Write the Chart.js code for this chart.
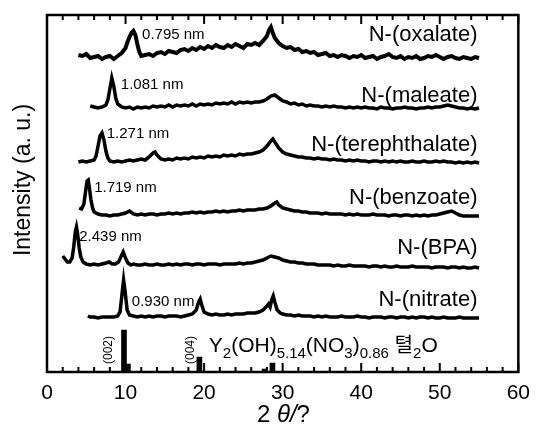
<!DOCTYPE html>
<html>
<head>
<meta charset="utf-8">
<script src="https://cdn.jsdelivr.net/npm/chart.js@4/dist/chart.umd.min.js"></script>
<style>body{margin:0;background:#fff}</style>
</head>
<body>
<canvas id="myChart" width="539" height="425"></canvas>
<script>
// 2theta (deg) and stacked intensity (a.u.)
let oxalateX = [4,4.5,5,5.5,6,6.5,7,7.5,8,8.5,9,9.5,10,10.25,10.5,10.75,11,11.25,11.5,11.75,12,12.5,13,13.5,14,14.5,15,15.5,16,16.5,17,17.5,18,18.5,19,19.5,20,20.5,21,21.5,22,22.5,23,23.5,24,24.5,25,25.5,26,26.5,27,27.5,28,28.25,28.5,28.75,29,29.5,30,30.5,31,31.5,32,32.5,33,33.5,34,34.5,35,35.5,36,36.5,37,37.5,38,38.5,39,39.5,40,40.5,41,41.5,42,42.5,43,43.5,44,44.5,45,45.5,46,46.5,47,47.5,48,48.5,49,49.5,50,50.5,51,51.5,52,52.5,53,53.5,54,54.5,55];
let oxalateY = [317,316,318,314,315,316,313,315,316,313,316,319,324,330,335,339,341,337,328,320,316,317,318,316,319,320,318,321,320,319,322,323,321,324,322,325,323,326,324,327,325,324,327,325,328,326,324,328,327,329,327,331,336,342,345,339,334,329,326,324,325,322,323,320,321,319,320,317,318,319,316,317,315,317,316,314,316,315,317,314,315,316,313,315,316,318,315,314,316,313,315,314,316,313,314,316,315,317,315,313,315,316,314,313,315,314,313,315,314];

let maleateX = [5.5,6,6.5,7,7.5,7.75,8,8.25,8.5,8.75,9,9.5,10,10.5,11,11.5,12,12.5,13,13.5,14,14.5,15,15.5,16,16.5,17,17.5,18,18.5,19,19.5,20,20.5,21,21.5,22,22.5,23,23.5,24,24.5,25,25.5,26,26.5,27,27.5,28,28.5,29,29.5,30,30.5,31,31.5,32,32.5,33,33.5,34,34.5,35,35.5,36,36.5,37,37.5,38,38.5,39,39.5,40,40.5,41,41.5,42,42.5,43,43.5,44,44.5,45,45.5,46,46.5,47,47.5,48,48.5,49,49.5,50,50.5,51,51.5,52,52.5,53,53.5,54,54.5,55];
let maleateY = [266,265,264,265,267,272,283,294,286,274,268,265,264,265,263,265,264,265,264,266,265,266,265,267,265,267,266,267,266,268,266,268,267,268,267,269,268,269,268,270,268,270,269,270,269,270,270,271,273,276,277,274,271,270,268,269,267,268,266,267,266,266,265,266,265,266,265,265,264,265,264,265,264,265,264,264,263,265,264,264,263,264,264,265,264,264,263,264,264,265,264,265,265,266,267,266,265,264,264,263,264,263,264];

let terephX = [4,4.5,5,5.5,6,6.25,6.5,6.75,7,7.25,7.5,7.75,8,8.5,9,9.5,10,10.5,11,11.5,12,12.5,13,13.5,13.75,14,14.5,15,15.5,16,16.5,17,17.5,18,18.5,19,19.5,20,20.5,21,21.5,22,22.5,23,23.5,24,24.5,25,25.5,26,26.5,27,27.5,28,28.5,28.75,29,29.5,30,30.5,31,31.5,32,32.5,33,33.5,34,34.5,35,35.5,36,36.5,37,37.5,38,38.5,39,39.5,40,40.5,41,41.5,42,42.5,43,43.5,44,44.5,45,45.5,46,46.5,47,47.5,48,48.5,49,49.5,50,50.5,51,51.5,52,52.5,53,53.5,54,54.5,55];
let terephY = [210,211,210,211,212,216,226,236,239,232,221,214,211,210,211,210,211,212,211,212,213,212,215,219,220,217,213,212,213,212,214,213,214,213,215,214,215,214,216,215,216,215,217,216,217,216,218,217,218,218,219,220,222,226,231,233,230,224,220,218,217,216,215,215,214,214,213,214,213,213,212,213,212,212,211,212,211,212,211,211,210,211,211,210,211,210,211,210,211,210,210,211,210,210,211,210,210,211,210,211,210,210,209,210,209,210,209,210,209];

let benzoateX = [4.1,4.4,4.7,4.9,5.1,5.25,5.4,5.6,5.8,6,6.5,7,7.5,8,8.5,9,9.5,10,10.5,11,11.5,12,12.5,13,13.5,14,14.5,15,15.5,16,16.5,17,17.5,18,18.5,19,19.5,20,20.5,21,21.5,22,22.5,23,23.5,24,24.5,25,25.5,26,26.5,27,27.5,28,28.5,29,29.25,29.5,30,30.5,31,31.5,32,32.5,33,33.5,34,34.5,35,35.5,36,36.5,37,37.5,38,38.5,39,39.5,40,40.5,41,41.5,42,42.5,43,43.5,44,44.5,45,45.5,46,46.5,47,47.5,48,48.5,49,49.5,50,50.5,51,51.5,52,52.5,53,53.5,54,54.5,55];
let benzoateY = [164,163,168,180,191,192,184,172,164,160,158,157,157,156,157,157,158,159,161,158,157,158,157,158,158,157,158,158,159,158,159,158,159,159,160,159,160,159,160,160,161,160,161,160,161,161,162,161,162,162,162,163,163,164,166,169,170,167,164,163,162,161,161,160,160,159,159,159,158,159,158,158,158,158,157,158,157,158,157,157,157,158,157,157,157,156,157,157,156,157,157,156,157,156,157,156,157,157,158,159,160,161,159,157,156,156,156,156,156];

let bpaX = [2,2.3,2.6,2.9,3.2,3.4,3.6,3.75,3.9,4.1,4.3,4.6,5,5.5,6,6.5,7,7.5,7.9,8.3,8.7,9.1,9.4,9.7,10,10.3,10.7,11,11.5,12,12.5,13,13.5,14,14.5,15,15.5,16,16.5,17,17.5,18,18.5,19,19.5,20,20.5,21,21.5,22,22.5,23,23.5,24,24.5,25,25.5,26,26.5,27,27.5,28,28.5,29,29.5,30,30.5,31,31.5,32,32.5,33,33.5,34,34.5,35,35.5,36,36.5,37,37.5,38,38.5,39,39.5,40,40.5,41,41.5,42,42.5,43,43.5,44,44.5,45,45.5,46,46.5,47,47.5,48,48.5,49,49.5,50,50.5,51,51.5,52,52.5,53,53.5,54,54.5,55];
let bpaY = [116,113,110,110,114,125,140,145,138,124,115,110,108,107,108,107,108,109,110,108,108,110,115,120,114,109,107,108,107,107,108,107,107,108,107,107,108,107,108,107,108,108,107,108,108,107,108,108,108,107,108,108,108,108,109,108,109,109,110,111,112,114,116,115,114,112,111,110,110,109,109,108,108,108,107,107,107,107,106,107,106,106,107,106,106,106,106,105,106,106,105,106,105,105,106,105,105,105,106,105,105,105,105,104,105,105,105,104,105,105,104,105,104,104,105,104];

let nitrateX = [5.2,5.5,6,6.5,7,7.5,8,8.5,9,9.3,9.55,9.75,9.95,10.2,10.5,11,11.5,12,12.5,13,13.5,14,14.5,15,15.5,16,16.5,17,17.5,18,18.5,19,19.3,19.5,19.7,20,20.5,21,21.5,22,22.5,23,23.5,24,24.5,25,25.5,26,26.5,27,27.5,28,28.2,28.4,28.6,28.8,29,29.3,29.7,30,30.5,31,31.5,32,32.5,33,33.5,34,34.5,35,35.5,36,36.5,37,37.5,38,38.5,39,39.5,40,40.5,41,41.5,42,42.5,43,43.5,44,44.5,45,45.5,46,46.5,47,47.5,48,48.5,49,49.5,50,50.5,51,51.5,52,52.5,53,53.5,54,54.5,55];
let nitrateY = [56,55,55,54,55,55,55,55,56,60,78,92,80,62,57,56,55,56,55,56,55,56,56,55,56,56,56,55,56,57,58,62,70,73,67,60,58,57,58,57,57,58,57,58,58,58,59,59,59,60,62,66,68,65,72,76,70,62,59,58,57,57,56,57,56,56,56,55,56,55,56,55,55,55,56,55,55,55,56,55,55,54,55,55,55,54,55,55,54,55,55,54,55,54,55,55,54,55,54,54,55,54,54,54,55,54,54,54,54,54];

// reference pattern of Y2(OH)5.14(NO3)0.86·H2O
let refX = [9.8, 10.3, 19.4, 27.7, 28.7];
let refY = [42, 8, 15, 3, 9];

let seriesNames = ["N-(oxalate)", "N-(maleate)", "N-(terephthalate)", "N-(benzoate)", "N-(BPA)", "N-(nitrate)"];
let spacings = ["0.795 nm", "1.081 nm", "1.271 nm", "1.719 nm", "2.439 nm", "0.930 nm"];
let hklLabels = ["(002)", "(004)"];
let xTicks = [0, 10, 20, 30, 40, 50, 60];

// where the texts sit, in axis units
let nameAt = [[54.8, 337], [54.8, 276], [54.8, 227], [54.8, 174], [54.8, 124], [54.8, 72]];
let spacingAt = [[12.1, 337], [9.4, 287], [7.6, 238], [6.0, 184], [4.1, 135], [10.8, 70]];
let hklAt = [[7.9, 22], [18.3, 22]];

function pts(xs, ys) {
    return xs.map(function (x, i) { return { x: x, y: ys[i] }; });
}

let traces = [
    [oxalateX, oxalateY], [maleateX, maleateY], [terephX, terephY],
    [benzoateX, benzoateY], [bpaX, bpaY], [nitrateX, nitrateY]
];

let datasets = traces.map(function (t, i) {
    return {
        type: "line",
        label: seriesNames[i],
        data: pts(t[0], t[1]),
        borderColor: "#000",
        borderWidth: i === 0 ? 4 : 3.5,
        pointRadius: 0,
        tension: 0,
    };
});
datasets.push({
    type: "bar",
    label: "ref",
    data: pts(refX, refY),
    backgroundColor: "#000",
    barThickness: 5,
    borderWidth: 0,
});

let sans = "'Liberation Sans', Arial, sans-serif";

let decor = {
    id: "decor",
    afterDraw: function (chart) {
        let c = chart.ctx, a = chart.chartArea;
        let xs = chart.scales.x, ys = chart.scales.y;
        c.save();
        c.strokeStyle = "#000";
        c.fillStyle = "#000";
        c.lineWidth = 2.5;
        c.strokeRect(a.left, a.top, a.right - a.left, a.bottom - a.top);
        c.lineWidth = 2;
        for (let v = 0; v <= 60; v += 2) {
            let px = xs.getPixelForValue(v);
            let len = v % 10 === 0 ? 9 : 5;
            c.beginPath();
            c.moveTo(px, a.bottom); c.lineTo(px, a.bottom - len);
            c.moveTo(px, a.top); c.lineTo(px, a.top + len);
            c.stroke();
        }

        c.textBaseline = "middle";
        c.font = "15px " + sans;
        c.textAlign = "left";
        spacings.forEach(function (s, i) {
            c.fillText(s, xs.getPixelForValue(spacingAt[i][0]), ys.getPixelForValue(spacingAt[i][1]));
        });
        c.font = "22px " + sans;
        c.textAlign = "right";
        seriesNames.forEach(function (s, i) {
            c.fillText(s, xs.getPixelForValue(nameAt[i][0]), ys.getPixelForValue(nameAt[i][1]));
        });

        // (hkl) labels, rotated
        c.font = "12px " + sans;
        c.textAlign = "center";
        hklLabels.forEach(function (s, i) {
            c.save();
            c.translate(xs.getPixelForValue(hklAt[i][0]), ys.getPixelForValue(hklAt[i][1]));
            c.rotate(-Math.PI / 2);
            c.fillText(s, 0, 0);
            c.restore();
        });

        // formula with subscripts
        let parts = [["Y", 0], ["2", 1], ["(OH)", 0], ["5.14", 1], ["(NO", 0], ["3", 1], [")", 0], ["0.86", 1], [" ", 0], ["텰", 2], ["2", 1], ["O", 0]];
        let fx = xs.getPixelForValue(20.6), fy = ys.getPixelForValue(20);
        c.textAlign = "left";
        c.textBaseline = "alphabetic";
        parts.forEach(function (p) {
            if (p[1] === 1) c.font = "15px " + sans;
            else if (p[1] === 2) c.font = "20px 'Noto Sans CJK KR', sans-serif";
            else c.font = "21px " + sans;
            c.fillText(p[0], fx, fy + (p[1] === 1 ? 6 : 0));
            fx += c.measureText(p[0]).width;
        });

        // axis titles
        c.save();
        c.translate(24, 180);
        c.rotate(-Math.PI / 2);
        c.textAlign = "center";
        c.textBaseline = "middle";
        c.font = "23px " + sans;
        c.fillText("Intensity (a. u.)", 0, 0);
        c.restore();

        let tparts = [["2 ", "24px "], ["\u03b8/", "italic 24px "], ["?", "24px "]];
        let w = 0;
        tparts.forEach(function (p) { c.font = p[1] + sans; w += c.measureText(p[0]).width; });
        let tx = xs.getPixelForValue(30.1) - w / 2;
        c.textBaseline = "middle";
        tparts.forEach(function (p) {
            c.font = p[1] + sans;
            c.fillText(p[0], tx, 415);
            tx += c.measureText(p[0]).width;
        });
        c.restore();
    }
};

new Chart(document.getElementById("myChart").getContext("2d"), {
    type: "line",
    data: { datasets: datasets },
    options: {
        responsive: false,
        animation: false,
        devicePixelRatio: 1,
        layout: { padding: { left: 47, right: 12, top: 15, bottom: 0 } },
        plugins: { legend: { display: false }, tooltip: { enabled: false } },
        scales: {
            x: {
                type: "linear",
                min: 0,
                max: 60,
                offset: false,
                grid: { display: false, drawTicks: false },
                border: { display: false },
                afterBuildTicks: function (s) { s.ticks = xTicks.map(function (v) { return { value: v }; }); },
                ticks: { color: "#000", padding: 9, maxRotation: 0, font: { size: 21, family: sans } },
                afterFit: function (s) { s.height = 53; },
            },
            y: { type: "linear", min: 0, max: 357, display: false },
        },
    },
    plugins: [decor],
});
</script>
</body>
</html>
